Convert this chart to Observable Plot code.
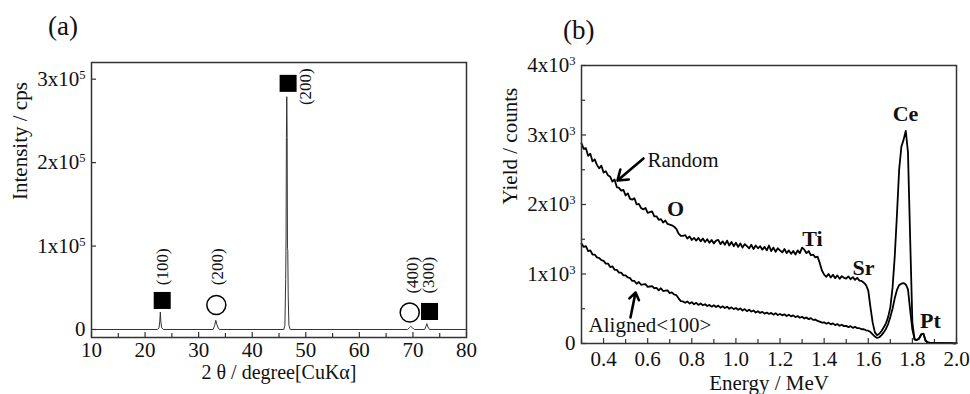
<!DOCTYPE html>
<html>
<head>
<meta charset="utf-8">
<script src="https://cdn.jsdelivr.net/npm/d3@7"></script>
<script src="https://cdn.jsdelivr.net/npm/@observablehq/plot@0.6"></script>
<style>
  body { margin: 0; background: #fff; }
  #wrap { position: relative; width: 970px; height: 394px; overflow: hidden; font-family: "Liberation Serif", "Times New Roman", serif; color: #111; }
  .panel { position: absolute; top: 45px; }
  .tag { position: absolute; font-size: 27px; line-height: 27px; }
</style>
</head>
<body>
<div id="wrap">
  <div class="tag" style="left:48px;top:13px">(a)</div>
  <div class="tag" style="left:563px;top:17px">(b)</div>
  <div class="panel" id="pa" style="left:0px"></div>
  <div class="panel" id="pb" style="left:485px"></div>
</div>
<script>
// ---------- (a) XRD pattern ----------
const xrdAngle = [10, 22.3, 22.6, 22.75, 22.85, 22.95, 23.1, 23.4,
  32.7, 33.0, 33.2, 33.4, 33.7, 34.0,
  45.9, 46.1, 46.25, 46.32, 46.38, 46.45, 46.52, 46.58, 46.64, 46.72, 46.85, 47.1,
  69.0, 69.4, 69.6, 69.9, 70.3,
  72.2, 72.45, 72.6, 72.8, 73.1, 80];
const xrdIntensity = [0, 0, 2000, 10000, 21000, 9000, 2000, 0,
  0, 5000, 11000, 6000, 1000, 0,
  0, 5000, 60000, 111000, 230000, 279000, 230000, 97000, 95000, 40000, 5000, 0,
  0, 2500, 3800, 2000, 0,
  0, 4000, 7000, 3000, 0, 0];

const phaseAngle = [23.2, 33.3, 46.7, 69.4, 73.1];
const phaseIntensity = [34800, 29400, 295000, 20400, 21600];
const phaseSymbol = ["square", "circle", "square", "circle", "square"];

const hklText = ["(100)", "(200)", "(200)", "(400)", "(300)"];
const hklAngle = [23.2, 33.45, 49.95, 69.85, 72.95];
const hklIntensity = [53000, 53000, 269000, 43000, 43000];

const xrdMajorTicks = [10, 20, 30, 40, 50, 60, 70, 80];
const xrdMinorTicks = [15, 25, 35, 45, 55, 65, 75];
const xrdYTicks = [0, 100000, 200000, 300000];

// ---------- (b) RBS spectra ----------
const channelEnergy = [
  0.30, 0.31, 0.32, 0.33, 0.34, 0.35, 0.36, 0.37, 0.38, 0.39,
  0.40, 0.41, 0.42, 0.43, 0.44, 0.45, 0.46, 0.47, 0.48, 0.49,
  0.50, 0.51, 0.52, 0.53, 0.54, 0.55, 0.56, 0.57, 0.58, 0.59,
  0.60, 0.61, 0.62, 0.63, 0.64, 0.65, 0.66, 0.67, 0.68, 0.69,
  0.70, 0.71, 0.72, 0.73, 0.74, 0.75, 0.76, 0.77, 0.78, 0.79,
  0.80, 0.81, 0.82, 0.83, 0.84, 0.85, 0.86, 0.87, 0.88, 0.89,
  0.90, 0.91, 0.92, 0.93, 0.94, 0.95, 0.96, 0.97, 0.98, 0.99,
  1.00, 1.01, 1.02, 1.03, 1.04, 1.05, 1.06, 1.07, 1.08, 1.09,
  1.10, 1.11, 1.12, 1.13, 1.14, 1.15, 1.16, 1.17, 1.18, 1.19,
  1.20, 1.21, 1.22, 1.23, 1.24, 1.25, 1.26, 1.27, 1.28, 1.29,
  1.30, 1.31, 1.32, 1.33, 1.34, 1.35, 1.36, 1.37, 1.38, 1.39,
  1.40, 1.41, 1.42, 1.43, 1.44, 1.45, 1.46, 1.47, 1.48, 1.49,
  1.50, 1.51, 1.52, 1.53, 1.54, 1.55, 1.56, 1.57, 1.58, 1.59,
  1.60, 1.61, 1.62, 1.63, 1.64, 1.65, 1.66, 1.67, 1.68, 1.69,
  1.70, 1.71, 1.72, 1.73, 1.74, 1.75, 1.76, 1.77, 1.78, 1.79,
  1.80, 1.81, 1.82, 1.83, 1.84, 1.85, 1.86, 1.87, 1.88, 1.89,
  1.90, 1.91, 1.92, 1.93, 1.94, 1.95, 1.96, 1.97, 1.98, 1.99, 2.00];

const randomYield = [
  2880, 2800, 2810, 2700, 2730, 2620, 2650, 2570, 2520, 2560,
  2460, 2480, 2420, 2400, 2330, 2360, 2250, 2240, 2200, 2210,
  2130, 2160, 2080, 2070, 2090, 2000, 2010, 1950, 1930, 1950,
  1880, 1890, 1900, 1830, 1830, 1780, 1790, 1740, 1770, 1720,
  1710, 1700, 1680, 1650, 1580, 1550, 1550, 1560, 1510, 1540,
  1490, 1520, 1480, 1520, 1470, 1510, 1460, 1500, 1450, 1490,
  1440, 1480, 1490, 1430, 1470, 1420, 1480, 1410, 1460, 1400,
  1450, 1390, 1440, 1380, 1430, 1400, 1370, 1420, 1360, 1410,
  1370, 1400, 1350, 1390, 1340, 1410, 1330, 1380, 1320, 1370,
  1340, 1310, 1360, 1300, 1340, 1290, 1330, 1280, 1340, 1300,
  1380, 1350, 1300, 1330, 1270, 1280, 1240, 1250, 1160, 1050,
  990, 960, 1000, 950, 990, 940, 980, 930, 970, 945,
  935, 965, 925, 955, 915, 945, 905, 900, 875, 840,
  760, 520, 300, 160, 120, 140, 180, 230, 290, 380,
  520, 800, 1250, 1850, 2500, 2830, 2930, 3060, 2750, 1500,
  300, 60, 50, 70, 130, 140, 40, 15, 10, 8,
  10, 6, 8, 5, 7, 5, 6, 4, 5, 3, 5];

const alignedYield = [
  1440, 1390, 1400, 1330, 1340, 1280, 1280, 1240, 1230, 1200,
  1190, 1150, 1150, 1100, 1110, 1060, 1060, 1020, 1020, 980,
  980, 950, 940, 900, 900, 860, 885, 845, 850, 855,
  815, 820, 825, 795, 800, 765, 795, 755, 760, 765,
  725, 735, 705, 695, 650, 610, 605, 585, 605, 575,
  595, 565, 585, 555, 575, 550, 565, 540, 555, 530,
  550, 525, 545, 515, 535, 510, 530, 500, 520, 495,
  510, 485, 505, 475, 495, 465, 485, 460, 475, 445,
  465, 440, 455, 430, 445, 425, 440, 415, 435, 410,
  425, 405, 420, 395, 415, 390, 405, 380, 395, 370,
  385, 360, 375, 350, 365, 340, 345, 325, 315, 300,
  305, 285, 300, 275, 290, 265, 280, 255, 270, 250,
  255, 235, 250, 225, 240, 220, 220, 205, 205, 190,
  185, 165, 130, 100, 80, 90, 120, 160, 210, 280,
  380, 500, 650, 770, 840, 860, 870, 850, 780, 480,
  200, 60, 50, 70, 130, 140, 40, 15, 10, 8,
  10, 6, 8, 5, 7, 5, 6, 4, 5, 3, 5];

const rbsMajorTicks = [0.4, 0.6, 0.8, 1.0, 1.2, 1.4, 1.6, 1.8, 2.0];
const rbsMinorTicks = [0.3, 0.5, 0.7, 0.9, 1.1, 1.3, 1.5, 1.7, 1.9];
const rbsYTicks = [0, 1000, 2000, 3000, 4000];
const rbsYMinorTicks = [500, 1500, 2500, 3500];

const curveLabels = ["Random", "Aligned<100>"];
const curveLabelE = [0.599, 0.332];
const curveLabelY = [2633, 259];
const arrowFromE = [0.581, 0.522], arrowFromY = [2662, 374];
const arrowToE = [0.463, 0.545], arrowToY = [2345, 734];

const elementNames = ["O", "Ti", "Sr", "Ce", "Pt"];
const elementE = [0.726, 1.347, 1.578, 1.769, 1.882];
const elementY = [1942, 1511, 1094, 3309, 331];

// ---------- shared drawing helpers ----------
const font = "'Liberation Serif', 'Times New Roman', serif";
const ink = "#111";
const frameInk = "#333";

function superscriptTicks(svg) {
  d3.select(svg).selectAll('g[aria-label="y-axis tick label"] text').each(function () {
    const t = this.textContent;
    if (!t.includes("^")) return;
    const [base, exp] = t.split("^");
    const sel = d3.select(this);
    sel.text(null);
    sel.append("tspan").text(base);
    sel.append("tspan").attr("dy", "-0.55em").attr("font-size", "0.6em").text(exp);
  });
}

// ---------- panel (a) ----------
{
  const W = 485, H = 349, mL = 91, mR = 19, mT = 17, mB = 57;
  const plotW = W - mL - mR, plotH = H - mT - mB;
  const pattern = xrdAngle.map((a, i) => ({angle: a, intensity: xrdIntensity[i]}));
  const phases = phaseAngle.map((a, i) => ({angle: a, intensity: phaseIntensity[i], symbol: phaseSymbol[i]}));
  const hkl = hklText.map((t, i) => ({text: t, angle: hklAngle[i], intensity: hklIntensity[i]}));

  const chart = Plot.plot({
    width: W, height: H,
    marginLeft: mL, marginRight: mR, marginTop: mT, marginBottom: mB,
    style: {fontFamily: font, fontSize: "21px", color: ink, background: "white", overflow: "visible"},
    x: {domain: [10, 80]},
    y: {domain: [-9600, 320000]},
    marks: [
      Plot.ruleX(xrdMajorTicks, {x: d => d, insetTop: plotH - 5, stroke: frameInk, strokeWidth: 1.2}),
      Plot.ruleX(xrdMinorTicks, {x: d => d, insetTop: plotH - 4, stroke: frameInk, strokeWidth: 1.2}),
      Plot.ruleY(xrdYTicks, {y: d => d, insetRight: plotW - 5, stroke: frameInk, strokeWidth: 1.2}),
      Plot.line(pattern, {x: "angle", y: "intensity", stroke: "#333", strokeWidth: 1}),
      Plot.dot(phases.filter(d => d.symbol === "square"), {x: "angle", y: "intensity", symbol: "square", r: 9.6, fill: "black", stroke: "none"}),
      Plot.dot(phases.filter(d => d.symbol === "circle"), {x: "angle", y: "intensity", symbol: "circle", r: 9.5, fill: "none", stroke: "black", strokeWidth: 1.5}),
      Plot.text(hkl, {x: "angle", y: "intensity", text: "text", rotate: -90, textAnchor: "start", fontSize: 17, fill: ink}),
      Plot.frame({stroke: frameInk, strokeWidth: 1.5}),
      Plot.axisX({ticks: xrdMajorTicks, tickSize: 0, tickPadding: 5, tickFormat: d => String(d), label: null, fill: ink}),
      Plot.axisY({ticks: xrdYTicks, tickSize: 0, tickPadding: 6, tickFormat: d => d === 0 ? "0" : `${d / 100000}x10^5`, label: null, fill: ink}),
      Plot.text(["2 θ / degree[CuKα]"], {frameAnchor: "bottom", dy: 41, fontSize: 20, fill: ink}),
      Plot.text(["Intensity / cps"], {frameAnchor: "left", rotate: -90, dx: -71, fontSize: 21, fill: ink})
    ]
  });
  superscriptTicks(chart);
  document.getElementById("pa").appendChild(chart);
}

// ---------- panel (b) ----------
{
  const W = 485, H = 349, mL = 96, mR = 14, mT = 20, mB = 51;
  const plotW = W - mL - mR, plotH = H - mT - mB;
  const spectra = [
    ...channelEnergy.map((e, i) => ({energy: e, counts: randomYield[i], series: "Random"})),
    ...channelEnergy.map((e, i) => ({energy: e, counts: alignedYield[i], series: "Aligned<100>"}))
  ];
  const curveTags = curveLabels.map((t, i) => ({text: t, energy: curveLabelE[i], counts: curveLabelY[i]}));
  const arrows = arrowFromE.map((e, i) => ({x1: e, y1: arrowFromY[i], x2: arrowToE[i], y2: arrowToY[i]}));
  const elements = elementNames.map((t, i) => ({text: t, energy: elementE[i], counts: elementY[i]}));

  const chart = Plot.plot({
    width: W, height: H,
    marginLeft: mL, marginRight: mR, marginTop: mT, marginBottom: mB,
    style: {fontFamily: font, fontSize: "21px", color: ink, background: "white", overflow: "visible"},
    x: {domain: [0.3, 2.0]},
    y: {domain: [0, 4000]},
    marks: [
      Plot.ruleX(rbsMajorTicks, {x: d => d, insetTop: plotH - 5, stroke: frameInk, strokeWidth: 1.2}),
      Plot.ruleX(rbsMinorTicks, {x: d => d, insetTop: plotH - 4, stroke: frameInk, strokeWidth: 1.2}),
      Plot.ruleY(rbsYTicks, {y: d => d, insetRight: plotW - 5, stroke: frameInk, strokeWidth: 1.2}),
      Plot.ruleY(rbsYMinorTicks, {y: d => d, insetRight: plotW - 4, stroke: frameInk, strokeWidth: 1.2}),
      Plot.line(spectra, {x: "energy", y: "counts", z: "series", stroke: "black", strokeWidth: 1.8, strokeLinejoin: "round"}),
      Plot.arrow(arrows, {x1: "x1", y1: "y1", x2: "x2", y2: "y2", stroke: "black", strokeWidth: 2.6, headLength: 10, headAngle: 70}),
      Plot.text(curveTags, {x: "energy", y: "counts", text: "text", textAnchor: "start", fontSize: 21, fill: ink}),
      Plot.text(elements, {x: "energy", y: "counts", text: "text", fontSize: 22, fontWeight: "bold", fill: ink}),
      Plot.frame({stroke: frameInk, strokeWidth: 1.5}),
      Plot.axisX({ticks: rbsMajorTicks, tickSize: 0, tickPadding: 8, tickFormat: d3.format(".1f"), label: null, fill: ink}),
      Plot.axisY({ticks: rbsYTicks, tickSize: 0, tickPadding: 6, tickFormat: d => d === 0 ? "0" : `${d / 1000}x10^3`, label: null, fill: ink}),
      Plot.text(["Energy / MeV"], {frameAnchor: "bottom", dy: 46, fontSize: 21, fill: ink}),
      Plot.text(["Yield / counts"], {frameAnchor: "left", rotate: -90, dx: -71, fontSize: 21, fill: ink})
    ]
  });
  superscriptTicks(chart);
  document.getElementById("pb").appendChild(chart);
}
</script>
</body>
</html>
